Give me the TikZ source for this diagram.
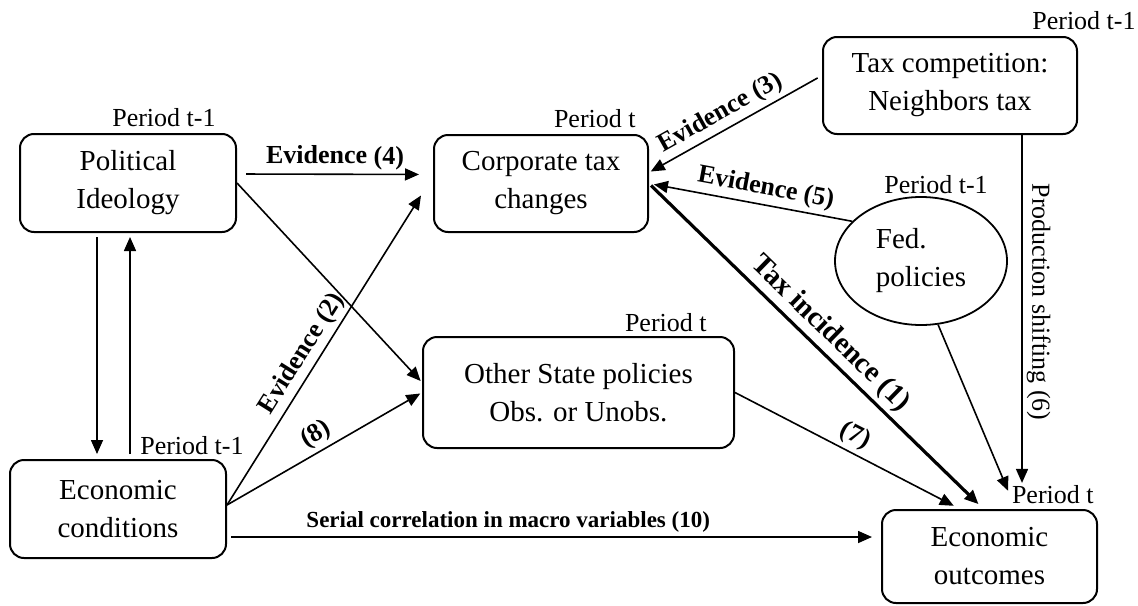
\documentclass[tikz,border=0pt]{standalone}
\usepackage{fontspec}
\setmainfont{Liberation Serif}
\usepackage{tikz}
\usetikzlibrary{shapes,arrows.meta,positioning}
\tikzset{
  box/.style={ draw, rounded corners=7pt, line width=1pt, align=center, font=\fontsize{14.5}{19}\selectfont }
}
\tikzset{
  per/.style={ inner sep=1pt, font=\fontsize{13}{15}\selectfont }
}
\tikzset{
  lab/.style={ sloped, above, inner sep=2pt, font=\bfseries\fontsize{13}{15}\selectfont }
}
\tikzset{
  arr/.style={ -{Triangle[length=7pt,width=6pt]}, line width=0.8pt }
}

\begin{document}
\begin{tikzpicture}[x=0.5pt,y=-0.5pt]
      \useasboundingbox (0,0) rectangle (1138,605);

      \node[box, minimum width=108pt, minimum height=49pt] (pol) at (128,183) {Political\\Ideology};
      \node[box, minimum width=107pt, minimum height=48.5pt] (corp) at (541,183.5) {Corporate tax\\changes};
      \node[box, minimum width=127pt, minimum height=48.5pt] (comp) at (950,85.5) {Tax competition:\\Neighbors tax};
      \node[draw, ellipse, line width=0.9pt, minimum width=86pt, minimum height=64pt, align=left,
            font=\fontsize{14.5}{19}\selectfont] (fed) at (921,261) {Fed.\\policies};
      \node[box, minimum width=155.5pt, minimum height=55.5pt] (other) at (578.5,392.5) {Other State policies\\Obs. or Unobs.};
      \node[box, minimum width=108pt, minimum height=49pt] (econ) at (118,509) {Economic\\conditions};
      \node[box, minimum width=107.5pt, minimum height=46.5pt] (out) at (989.5,556.5) {Economic\\outcomes};

      \node[per, anchor=south east, xshift=-9.5pt, yshift=2pt] (polper) at (pol.north east) {Period t-1};
      \node[per, anchor=south east, xshift=-5.5pt, yshift=2pt] (corpper) at (corp.north east) {Period t};
      \node[per, anchor=south east, xshift=30pt, yshift=2pt] (compper) at (comp.north east) {Period t-1};
      \node[per, anchor=south, xshift=7.5pt, yshift=0pt] (fedper) at (fed.north) {Period t-1};
      \node[per, anchor=south east, xshift=-13pt, yshift=1pt] (otherper) at (other.north east) {Period t};
      \node[per, anchor=south east, xshift=9.5pt, yshift=1pt] (econper) at (econ.north east) {Period t-1};
      \node[per, anchor=south east, xshift=-1pt, yshift=1.5pt] (outper) at (out.north east) {Period t};

      \draw[arr, shorten <=4.5pt, shorten >=7pt] ([yshift=4.5pt]pol.east) -- ([yshift=4.5pt]corp.west)
            node[lab, midway] {Evidence (4)};
      \draw[arr, shorten >=1pt] (pol.east) -- ([yshift=5pt]other.west);
      \draw[arr] ([yshift=2pt]econ.east) -- ([xshift=-6pt, yshift=-6pt]corp.west)
            node[lab, pos=0.46] {Evidence (2)};
      \draw[arr, shorten >=1pt] ([yshift=2pt]econ.east) -- ([yshift=0pt]other.west)
            node[lab, pos=0.5] {(8)};
      \draw[arr, shorten <=2pt, shorten >=2.5pt] ([xshift=-15.5pt]pol.south) -- ([xshift=-10.5pt]econ.north);
      \draw[arr, shorten <=2.5pt, shorten >=2pt] ([xshift=6pt]econ.north) -- ([xshift=1pt]pol.south);
      \draw[arr, shorten <=2pt, shorten >=4.5pt] ([yshift=-14pt]econ.east) -- ([yshift=-14pt]econ.east -| out.west)
            node[lab, pos=0.43, font=\bfseries\fontsize{11.5}{14}\selectfont] {Serial correlation in macro variables (10)};
      \draw[arr, shorten <=2.5pt, shorten >=1pt] ([yshift=5pt]comp.west) -- ([yshift=5.5pt]corp.east)
            node[lab, pos=0.54] {Evidence (3)};
      \draw[arr, shorten >=2.5pt] (fed.150) -- (corp.east)
            node[lab, pos=0.44] {Evidence (5)};
      \draw[arr, line width=1.6pt, shorten >=3.5pt] ([xshift=1pt, yshift=-1pt]corp.east) -- ([xshift=-3pt]out.north)
            node[lab, pos=0.5, font=\bfseries\fontsize{14.5}{16}\selectfont] {Tax incidence (1)};
      \draw[arr, shorten >=3.5pt] (other.east) -- ([xshift=-14.75pt]out.north)
            node[lab, pos=0.5] {(7)};
      \draw[arr, shorten >=2pt] (fed.-75) -- (outper.west);
      \draw[arr] ([xshift=36pt]comp.south) -- ([xshift=36pt]comp.south |- outper.north)
            node[lab, pos=0.48, font=\fontsize{13}{15}\selectfont] {Production shifting (6)};
    \end{tikzpicture}
\end{document}
